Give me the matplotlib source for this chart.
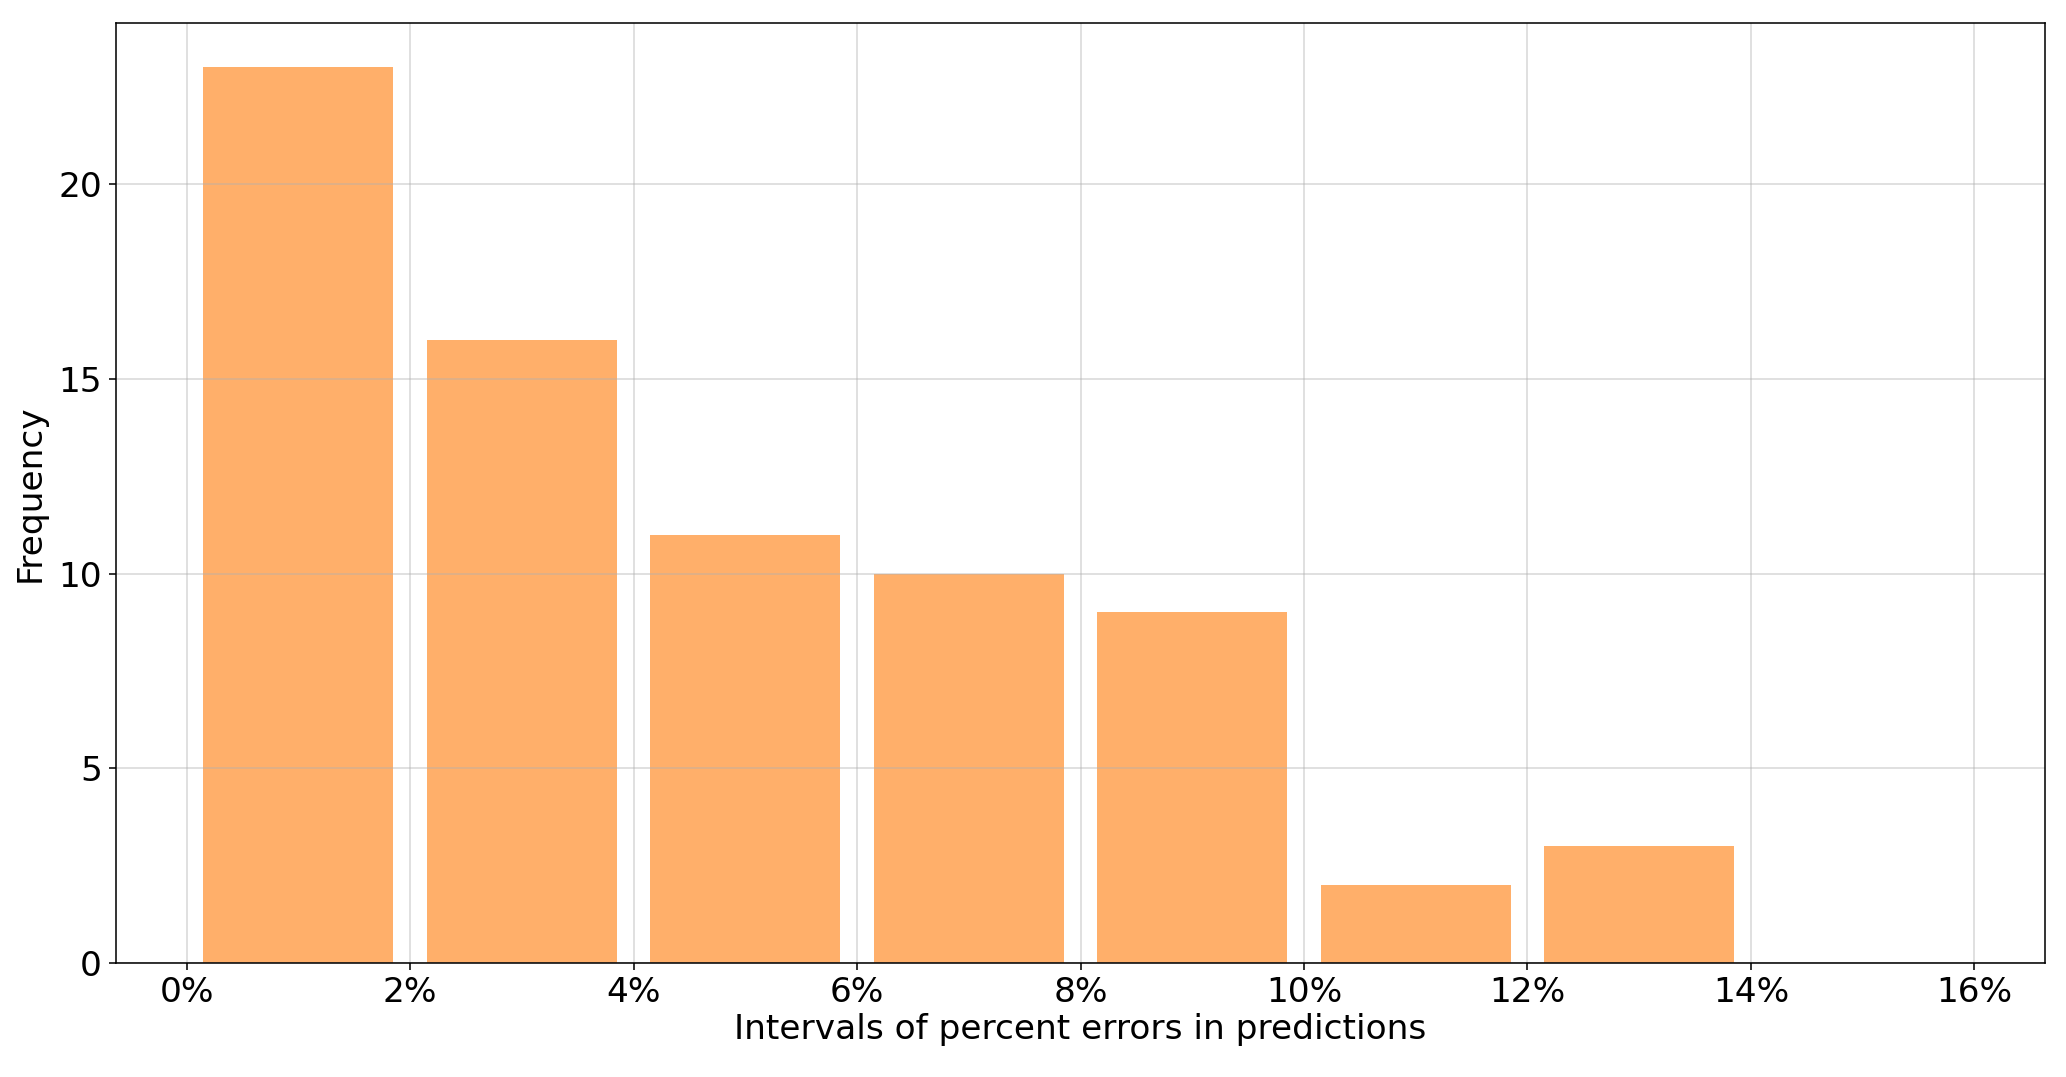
import numpy as np
import matplotlib
matplotlib.use("Agg")
import matplotlib.pyplot as plt
from matplotlib.ticker import PercentFormatter

# data: 2% wide intervals of percent error
bin_edges = [0, 2, 4, 6, 8, 10, 12, 14, 16]
counts = [23, 16, 11, 10, 9, 2, 3, 0]

bin_centers = [(a + b) / 2 for a, b in zip(bin_edges[:-1], bin_edges[1:])]

plt.rcParams.update({'font.size': 17.7})

fig, ax = plt.subplots(figsize=(2066 / 140, 1077 / 140), dpi=140)
ax.hist(bin_centers, bins=bin_edges, weights=counts, rwidth=0.85,
        color="tab:orange", alpha=0.62)

ax.xaxis.set_major_formatter(PercentFormatter(100, decimals=0))
ax.set_xlabel("Intervals of percent errors in predictions", labelpad=2)
ax.set_ylabel("Frequency", labelpad=6)
ax.grid(alpha=0.5)

fig.subplots_adjust(left=0.056, right=0.990, top=0.979, bottom=0.106)
fig.savefig("out.png", dpi=140)
